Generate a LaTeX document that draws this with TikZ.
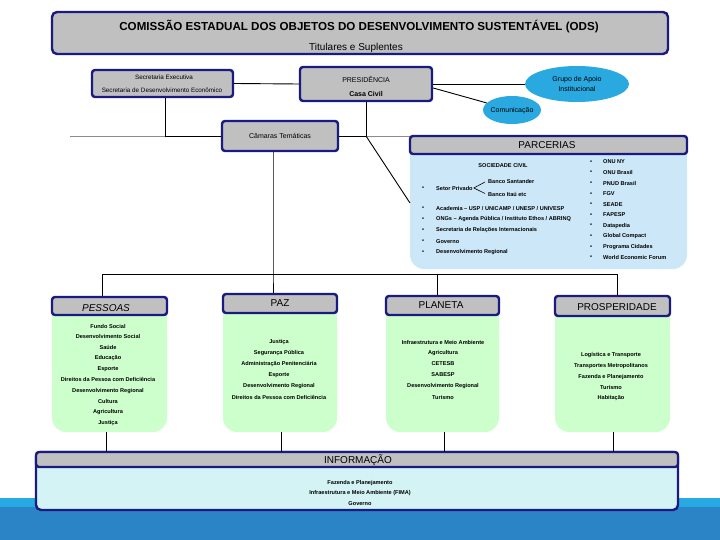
\documentclass[tikz,border=0pt]{standalone}
\usepackage{fontspec}
\setmainfont{Liberation Sans}
\usetikzlibrary{shapes.geometric}
\definecolor{navy}{HTML}{1A1A80}
\definecolor{hdrgray}{HTML}{C0C0C0}
\definecolor{skyb}{HTML}{2AA8E0}
\definecolor{parcb}{HTML}{CCE8F8}
\definecolor{greenb}{HTML}{CCFFCC}
\definecolor{infob}{HTML}{D4F3F5}
\definecolor{banddark}{HTML}{2A84C6}
\definecolor{bandlight}{HTML}{27A9E1}
\definecolor{lgray}{HTML}{8C8C8C}
\newcommand\tinyf{\fontsize{5.6}{6.5}\selectfont\bfseries}
\newcommand\hdrf{\fontsize{10}{12}\selectfont}
\newcommand\titlef{\fontsize{11.6}{13}\selectfont\bfseries}
\newcommand\subtf{\fontsize{10}{12}\selectfont}
\newcommand\smallf{\fontsize{6.3}{8}\selectfont}
\newcommand\medf{\fontsize{7}{10}\selectfont}
\begin{document}
\begin{tikzpicture}[x=1pt,y=-1pt,
  conn/.style={draw=black, line width=0.9pt},
  grayline/.style={draw=lgray, line width=0.9pt},
  hdr/.style={draw=navy, line width=2.4pt, fill=hdrgray, rounded corners=3pt, inner sep=0pt},
  gbody/.style={fill=greenb, rounded corners=14pt, inner sep=0pt},
  ell/.style={ellipse, fill=skyb, inner sep=0pt},
  tx/.style={font=\tinyf, inner sep=0pt},
  hx/.style={font=\hdrf, inner sep=0pt}]
\useasboundingbox (0,0) rectangle (720,540);
\fill[white] (0,0) rectangle (720,540);
% bottom band
\fill[bandlight] (0,498) rectangle (720,540);
\fill[banddark] (0,507) rectangle (720,540);

% title
\node[hdr, minimum width=616, minimum height=42, rounded corners=5pt] (title) at (360,33) {};
\node[font=\titlef, inner sep=0pt] (titletx) at (359,27) {COMISSÃO ESTADUAL DOS OBJETOS DO DESENVOLVIMENTO SUSTENTÁVEL (ODS)};
\node[font=\subtf, inner sep=0pt] (subtx) at (356,48) {Titulares e Suplentes};

% gray line (behind boxes)
\coordinate (g0) at (70,136);
\draw[grayline] (g0) -- (222,136);
\draw[grayline] (338,136) -- (410,136);

% secretaria
\node[hdr, minimum width=141, minimum height=27] (sec) at (162.5,83.5) {};
\node[font=\smallf, inner sep=0pt] (sec1) at (164,77) {Secretaria Executiva};
\node[font=\smallf, inner sep=0pt] (sec2) at (162,90) {Secretaria de Desenvolvimento Econômico};

% presidencia
\node[hdr, minimum width=132, minimum height=34] (pres) at (366,84) {};
\node[font=\medf, inner sep=0pt] (pres1) at (366,79) {PRESIDÊNCIA};
\node[font=\medf\bfseries, inner sep=0pt] (pres2) at (366,94) {Casa Civil};

% ellipses
\node[ell, minimum width=104, minimum height=36] (grupo) at (577,84) {};
\node[font=\medf, inner sep=0pt, align=center] (grupotx) at (577,84) {Grupo de Apoio\\Institucional};
\node[ell, minimum width=58, minimum height=28] (com) at (512,110) {};
\node[font=\medf, inner sep=0pt] (comtx) at (512,111) {Comunicação};

% camaras
\node[hdr, minimum width=116, minimum height=30] (cam) at (280,136) {};
\node[font=\medf, inner sep=0pt] (camtx) at (280,136) {Câmaras Temáticas};

% parcerias
\node[fill=parcb, rounded corners=14pt, inner sep=0pt, minimum width=277, minimum height=115] (parcB) at (548.5,211.5) {};
\fill[parcb] (parcB.north west) rectangle (parcB.east);
\node[hdr, minimum width=277, minimum height=18] (parcH) at (548.5,145) {};
\node[hx] (parctx) at (547,145) {PARCERIAS};

\node[tx] (soc) at (503,166) {SOCIEDADE CIVIL};
\node[tx] (setb) at (423,188) {•};
\node[tx, anchor=west] (setor) at (436,188) {Setor Privado};
\node[tx, anchor=west] (bs) at (488,181) {Banco Santander};
\node[tx, anchor=west] (bi) at (488,194.5) {Banco Itaú etc};
\draw[line width=0.6pt] ([xshift=1pt]setor.east) -- ([xshift=-3pt,yshift=-1pt]bs.west);
\draw[line width=0.6pt] ([xshift=1pt]setor.east) -- ([xshift=-3pt,yshift=1pt]bi.west);
\foreach \t [count=\i] in {Academia – USP / UNICAMP / UNESP / UNIVESP, ONGs – Agenda Pública / Instituto Ethos / ABRINQ, Secretaria de Relações Internacionais, Governo, Desenvolvimento Regional}{
  \node[tx] (lb\i) at (423,{208.5+11*(\i-1)}) {•};
  \node[tx, anchor=west] (lt\i) at (436,{208.5+11*(\i-1)}) {\t};
}
\foreach \t [count=\i] in {ONU NY, ONU Brasil, PNUD Brasil, FGV, SEADE, FAPESP, Datapedia, Global Compact, Programa Cidades, World Economic Forum}{
  \node[tx] (rb\i) at (591,{162+10.6*(\i-1)}) {•};
  \node[tx, anchor=west] (rt\i) at (603,{162+10.6*(\i-1)}) {\t};
}

% black connectors top
\coordinate (j1) at (165,136);
\draw[conn] (sec.south -| j1) -- (j1) -- (cam.west);
\coordinate (j2) at (pres.south |- cam.east);
\draw[conn] (pres.south) -- (j2) -- (cam.east);
\coordinate (pd) at (410,203);
\draw[conn] (j2) -- (pd);
\draw[conn] (sec.east) -- (pres.west);
\draw[conn] (pres.east) -- (grupo.west);
\draw[conn] ([yshift=-4pt]pres.east) -- (com);

% four columns
\node[gbody, minimum width=115, minimum height=117] (pesB) at (109.5,373.5) {};
\fill[greenb] (pesB.north west) rectangle (pesB.east);
\node[hdr, minimum width=115, minimum height=18] (pesH) at (109.5,306) {};
\node[hx, font=\hdrf\itshape] (pestx) at (106,308) {PESSOAS};

\node[gbody, minimum width=114, minimum height=119] (pazB) at (280,372.5) {};
\fill[greenb] (pazB.north west) rectangle (pazB.east);
\node[hdr, minimum width=114, minimum height=19] (pazH) at (280,303.5) {};
\node[hx] (paztx) at (280,303) {PAZ};

\node[gbody, minimum width=113, minimum height=117] (plaB) at (442.5,373.5) {};
\fill[greenb] (plaB.north west) rectangle (plaB.east);
\node[hdr, minimum width=113, minimum height=19] (plaH) at (442.5,305.5) {};
\node[hx] (platx) at (441,305) {PLANETA};

\node[gbody, minimum width=115, minimum height=116] (proB) at (612.5,374) {};
\fill[greenb] (proB.north west) rectangle (proB.east);
\node[hdr, minimum width=115, minimum height=20] (proH) at (612.5,306) {};
\node[hx] (protx) at (617,307) {PROSPERIDADE};

\foreach \t [count=\i] in {Fundo Social, Desenvolvimento Social, Saúde, Educação, Esporte, Direitos da Pessoa com Deficiência, Desenvolvimento Regional, Cultura, Agricultura, Justiça}{
  \node[tx] (pes\i) at (108,{326+10.78*(\i-1)}) {\t};
}
\foreach \t [count=\i] in {Justiça, Segurança Pública, Administração Penitenciária, Esporte, Desenvolvimento Regional, Direitos da Pessoa com Deficiência}{
  \node[tx] (paz\i) at (279,{342+11*(\i-1)}) {\t};
}
\foreach \t [count=\i] in {Infraestrutura e Meio Ambiente, Agricultura, CETESB, SABESP, Desenvolvimento Regional, Turismo}{
  \node[tx] (pla\i) at (443,{342+11*(\i-1)}) {\t};
}
\foreach \t [count=\i] in {Logística e Transporte, Transportes Metropolitanos, Fazenda e Planejamento, Turismo, Habitação}{
  \node[tx] (pro\i) at (611,{355+10.8*(\i-1)}) {\t};
}

% bus
\coordinate (b1) at (102,274);
\coordinate (b2) at (273,274);
\coordinate (b3) at (437,274);
\coordinate (b4) at (617,274);
\draw[conn] (b1) -- (b4);
\draw[conn] (cam.south -| b2) -- (b2) -- (pazH.north -| b2);
\draw[conn] (b1) -- (pesH.north -| b1);
\draw[conn] (b3) -- (plaH.north -| b3);
\draw[conn] (b4) -- (proH.north -| b4);

% informacao
\node[fill=infob, draw=navy, line width=2.4pt, rounded corners=5pt, inner sep=0pt, minimum width=642, minimum height=58] (infoB) at (357,481) {};
\node[hdr, minimum width=642, minimum height=15] (infoH) at (357,459.5) {};
\node[hx] (infotx) at (358,460.5) {INFORMAÇÃO};
\node[tx] (inf1) at (360,483) {Fazenda e Planejamento};
\node[tx] (inf2) at (360,493.5) {Infraestrutura e Meio Ambiente (FIMA)};
\node[tx] (inf3) at (360,504) {Governo};

\coordinate (i1) at (106,452);
\coordinate (i2) at (281,452);
\coordinate (i3) at (444,452);
\coordinate (i4) at (613,452);
\draw[conn] (pesB.south -| i1) -- (i1);
\draw[conn] (pazB.south -| i2) -- (i2);
\draw[conn] (plaB.south -| i3) -- (i3);
\draw[conn] (proB.south -| i4) -- (i4);
\end{tikzpicture}
\end{document}
